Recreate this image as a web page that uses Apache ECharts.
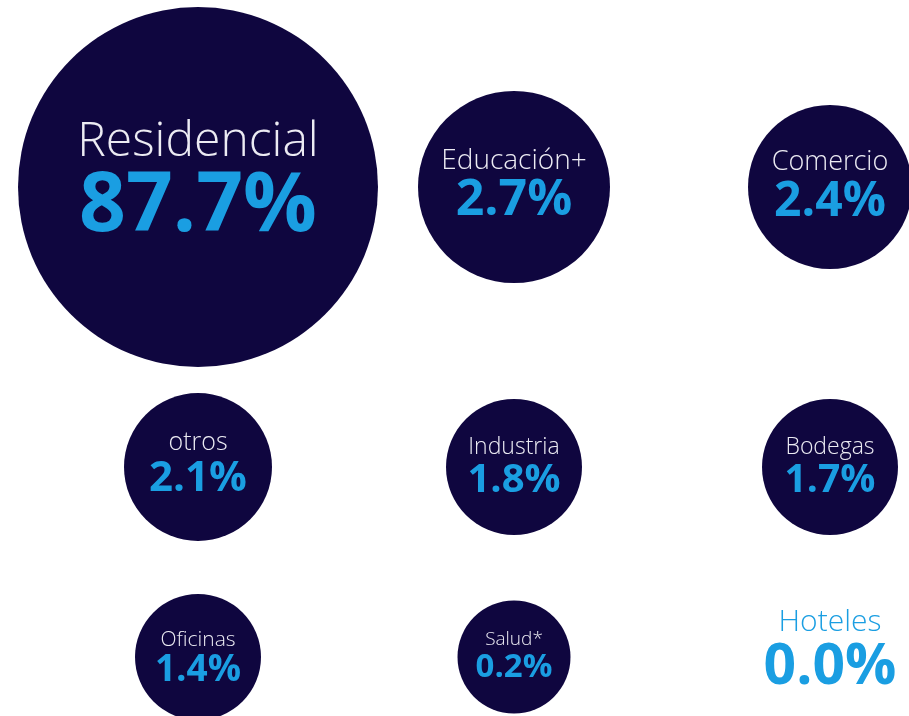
<!DOCTYPE html>
<html>
<head>
<meta charset="utf-8">
<script src="https://cdn.jsdelivr.net/npm/echarts@6/dist/echarts.min.js"></script>
<style>
  html, body { margin: 0; padding: 0; background: #fff; }
  #burbujas { width: 909px; height: 716px; }
</style>
</head>
<body>
<div id="burbujas"></div>
<script>
// sectores y su participación (%)
var sectores = ['Residencial', 'Educación+', 'Comercio', 'otros', 'Industria', 'Bodegas', 'Oficinas', 'Salud*', 'Hoteles'];
var participacion = [87.7, 2.7, 2.4, 2.1, 1.8, 1.7, 1.4, 0.2, 0.0];
var filas = ['fila 1', 'fila 2', 'fila 3'];

// tamaño de burbuja / letra de cada sector (d = diametro, fn = nombre, fv = valor)
var estilo = {
  'Residencial': { d: 360, fn: 48, fv: 82, lh: 66, dy: -12 },
  'Educación+':  { d: 192, fn: 28, fv: 50, lh: 40, dy: -6 },
  'Comercio':    { d: 164, fn: 27, fv: 48, lh: 40, dy: -5 },
  'otros':       { d: 148, fn: 25, fv: 42, lh: 36, dy: -6 },
  'Industria':   { d: 136, fn: 23, fv: 40, lh: 33, dy: -3 },
  'Bodegas':     { d: 136, fn: 23, fv: 39, lh: 33, dy: -3 },
  'Oficinas':    { d: 126, fn: 21, fv: 37, lh: 30, dy: -2 },
  'Salud*':      { d: 113, fn: 19, fv: 33, lh: 28, dy: -3 },
  'Hoteles':     { d: 0,   fn: 30, fv: 57, lh: 45, dy: -12 }
};
var centroFila = [187, 467, 657];
var azul = '#1a9ee2';
var fondo = '#0f063f';
var fuente = '"Open Sans", "Noto Sans", sans-serif';

var myChart = echarts.init(document.getElementById('burbujas'));

var grid = [], xAxis = [], yAxis = [], series = [];
filas.forEach(function (fila, r) {
  var nombres = sectores.slice(r * 3, r * 3 + 3);
  //una grilla por fila, columnas por categoria
  grid.push({ left: 198, right: 79, top: centroFila[r] - 10, height: 20 });
  xAxis.push({ type: 'category', gridIndex: r, data: nombres, boundaryGap: false, show: false });
  yAxis.push({ type: 'category', gridIndex: r, data: [fila], show: false });
  series.push({
    type: 'scatter',
    xAxisIndex: r,
    yAxisIndex: r,
    clip: false,
    silent: true,
    data: nombres.map(function (n) {
      var i = sectores.indexOf(n);
      var e = estilo[n];
      var sinBurbuja = e.d === 0;
      return {
        value: [n, fila],
        symbolSize: sinBurbuja ? 1 : e.d,
        itemStyle: { color: sinBurbuja ? 'rgba(0,0,0,0)' : fondo, opacity: 1 },
        label: {
          show: true,
          position: 'inside',
          offset: [0, e.dy],
          opacity: 1,
          formatter: '{n|' + n + '}\n{v|' + participacion[i].toFixed(1) + '%}',
          rich: {
            n: { fontSize: e.fn, lineHeight: e.lh, fontWeight: 300, fontFamily: fuente,
                 color: sinBurbuja ? azul : '#ecebf3', align: 'center' },
            v: { fontSize: e.fv, lineHeight: e.lh, fontWeight: 'bold', fontFamily: fuente,
                 color: azul, align: 'center' }
          }
        }
      };
    })
  });
});

myChart.setOption({
  animation: false,
  backgroundColor: '#fff',
  grid: grid,
  xAxis: xAxis,
  yAxis: yAxis,
  series: series
});
</script>
</body>
</html>
